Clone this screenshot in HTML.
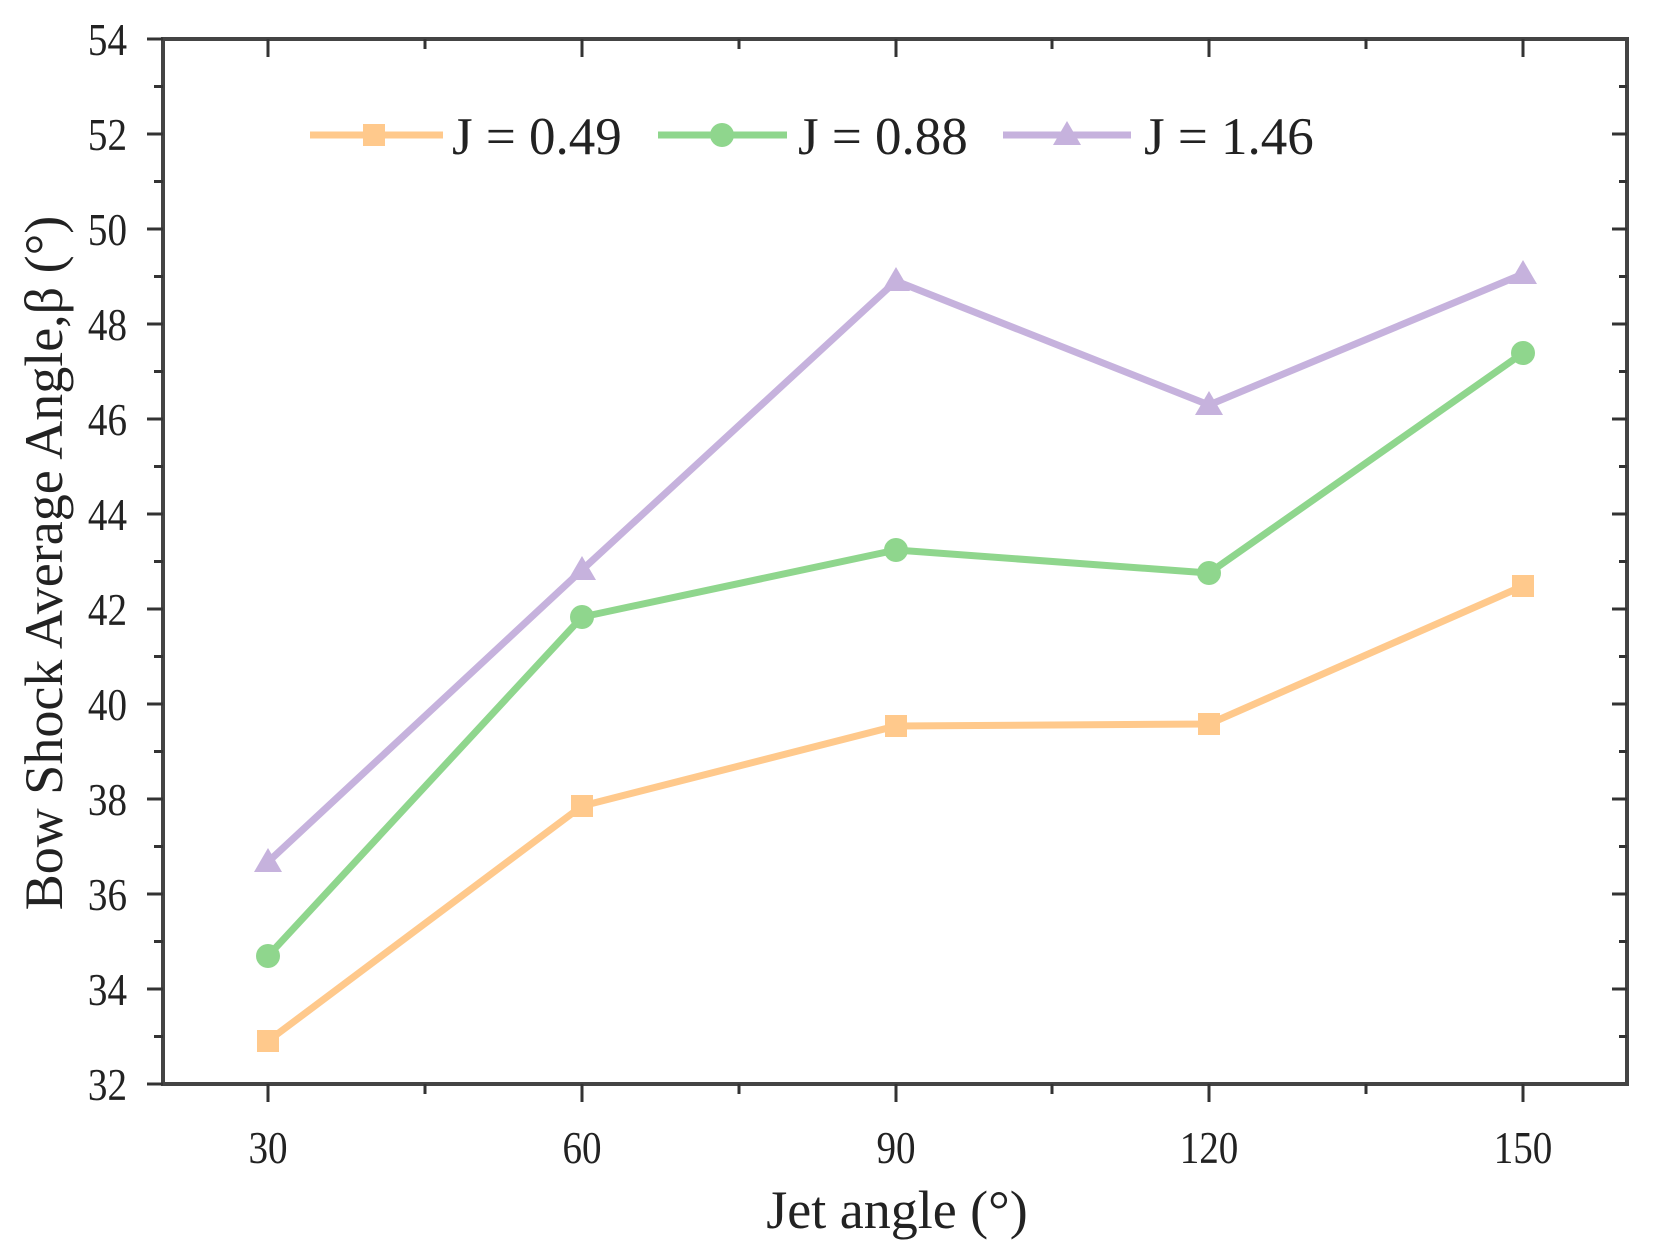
<!DOCTYPE html>
<html><head><meta charset="utf-8"><style>
html,body{margin:0;padding:0;background:#fff;}
svg{display:block;}
text{font-family:"Liberation Serif",serif;fill:#222;}
</style></head><body>
<svg width="1656" height="1255" viewBox="0 0 1656 1255" xmlns="http://www.w3.org/2000/svg">
<g stroke="#444" stroke-width="4" fill="none">
<rect x="163" y="39" width="1464" height="1045"/>
</g>
<g stroke="#333" stroke-width="3">
<path d="M147 39H163M147 134H163M147 229H163M147 324H163M147 419H163M147 514H163M147 609H163M147 704H163M147 799H163M147 894H163M147 989H163M147 1084H163"/>
<path d="M154 86.5H163M154 181.5H163M154 276.5H163M154 371.5H163M154 466.5H163M154 561.5H163M154 656.5H163M154 751.5H163M154 846.5H163M154 941.5H163M154 1036.5H163"/>
<path d="M1612 134H1627M1612 229H1627M1612 324H1627M1612 419H1627M1612 514H1627M1612 609H1627M1612 704H1627M1612 799H1627M1612 894H1627M1612 989H1627"/>
<path d="M1619 86.5H1627M1619 181.5H1627M1619 276.5H1627M1619 371.5H1627M1619 466.5H1627M1619 561.5H1627M1619 656.5H1627M1619 751.5H1627M1619 846.5H1627M1619 941.5H1627M1619 1036.5H1627"/>
<path d="M268 1084V1102M582 1084V1102M896 1084V1102M1209 1084V1102M1523 1084V1102"/>
<path d="M425 1084V1094M739 1084V1094M1052 1084V1094M1366 1084V1094"/>
<path d="M268 39V57M582 39V57M896 39V57M1209 39V57M1523 39V57"/>
<path d="M425 39V49M739 39V49M1052 39V49M1366 39V49"/>
</g>
<g font-size="46" text-anchor="end" transform="translate(127,0) scale(0.85,1)">
<text x="0" y="55">54</text><text x="0" y="150">52</text><text x="0" y="245">50</text><text x="0" y="340">48</text><text x="0" y="435">46</text><text x="0" y="530">44</text><text x="0" y="625">42</text><text x="0" y="720">40</text><text x="0" y="815">38</text><text x="0" y="910">36</text><text x="0" y="1005">34</text><text x="0" y="1100">32</text>
</g>
<g font-size="46" text-anchor="middle">
<text transform="translate(268,1163) scale(0.85,1)">30</text><text transform="translate(582,1163) scale(0.85,1)">60</text><text transform="translate(896,1163) scale(0.85,1)">90</text><text transform="translate(1209,1163) scale(0.85,1)">120</text><text transform="translate(1523,1163) scale(0.85,1)">150</text>
</g>
<text x="897" y="1228" font-size="54" text-anchor="middle">Jet angle (°)</text>
<text transform="translate(62,563) rotate(-90)" font-size="54" text-anchor="middle">Bow Shock Average Angle,β (°)</text>

<g fill="none" stroke-width="7" stroke-linejoin="round">
<polyline stroke="#FFC98C" points="268,1041 582,806 896,726 1209,724 1523,586"/>
<polyline stroke="#8FD68D" points="268,956 582,617 896,550 1209,573 1523,353"/>
<polyline stroke="#C6B2DD" points="268,862 582,570 896,281 1209,405 1523,274"/>
</g>
<g fill="#FFC98C">
<rect x="257" y="1030" width="22" height="22"/><rect x="571" y="795" width="22" height="22"/><rect x="885" y="715" width="22" height="22"/><rect x="1198" y="713" width="22" height="22"/><rect x="1512" y="575" width="22" height="22"/>
<rect x="363" y="124" width="22" height="22"/>
</g>
<g fill="#8FD68D">
<circle cx="268" cy="956" r="12"/><circle cx="582" cy="617" r="12"/><circle cx="896" cy="550" r="12"/><circle cx="1209" cy="573" r="12"/><circle cx="1523" cy="353" r="12"/>
<circle cx="722" cy="135" r="12"/>
</g>
<g fill="#C6B2DD">
<polygon points="268,848 282,872 254,872"/><polygon points="582,556 596,580 568,580"/><polygon points="896,267 910,291 882,291"/><polygon points="1209,391 1223,415 1195,415"/><polygon points="1523,260 1537,284 1509,284"/>
<polygon points="1067,121 1081,145 1053,145"/>
</g>
<g stroke-width="7">
<line x1="310" y1="135" x2="443" y2="135" stroke="#FFC98C"/>
<line x1="658" y1="135" x2="787" y2="135" stroke="#8FD68D"/>
<line x1="1003" y1="135" x2="1131" y2="135" stroke="#C6B2DD"/>
</g>
<g font-size="53">
<text x="452" y="154">J = 0.49</text>
<text x="798" y="154">J = 0.88</text>
<text x="1144" y="154">J = 1.46</text>
</g>
</svg>
</body></html>
